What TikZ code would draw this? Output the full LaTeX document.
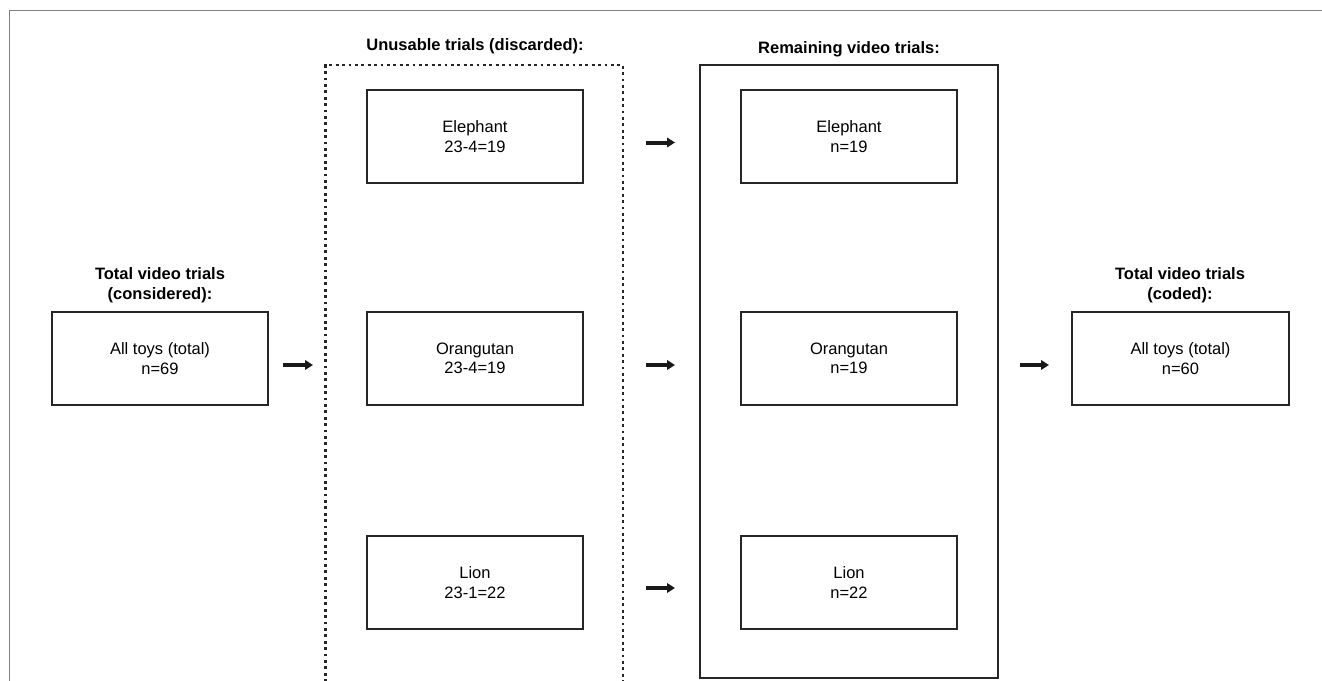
\documentclass[tikz,border=0pt]{standalone}
\usepackage{fontspec}
\setmainfont{Liberation Sans}
\usetikzlibrary{arrows.meta}
\begin{document}
\begin{tikzpicture}[x=1pt,y=-1pt,
  box/.style={draw=black!85,line width=1.8pt,minimum width=216pt,minimum height=93pt,inner sep=0pt,align=center,font=\fontsize{16.5}{19.5}\selectfont},
  hdr/.style={align=center,font=\fontsize{16.5}{20}\selectfont\bfseries},
  arr/.style={line width=4pt,-{Triangle[length=8pt,width=9.5pt]},black!90}]
\useasboundingbox (0,0) rectangle (1322,680);
\fill[white] (0,0) rectangle (1322,680);
% outer frame (open at right and bottom)
\draw[black!50,line width=1pt] (9.5,682) -- (9.5,10.5) -- (1324,10.5);
% group boxes
\draw[line width=2.3pt,dash pattern=on 2.8pt off 3.6pt,black!85] (325.5,682) -- (325.5,65) -- (623,65) -- (623,682);
\draw[line width=1.8pt,black!85] (700,65) rectangle (998,678);
% headers
\node[hdr] (hU) at (475,46) {Unusable trials (discarded):};
\node[hdr] (hR) at (849,49) {Remaining video trials:};
\node[hdr] (hL) at (160,285) {Total video trials\\(considered):};
\node[hdr] (hC) at (1180,285) {Total video trials\\(coded):};
% boxes
\node[box] (all) at (160,358.5) {All toys (total)\\n=69};
\node[box] (de) at (475,136.5) {Elephant\\23-4=19};
\node[box] (do) at (475,358.5) {Orangutan\\23-4=19};
\node[box] (dl) at (475,582.5) {Lion\\23-1=22};
\node[box] (re) at (849,136.5) {Elephant\\n=19};
\node[box] (ro) at (849,358.5) {Orangutan\\n=19};
\node[box] (rl) at (849,582.5) {Lion\\n=22};
\node[box,minimum width=217pt] (tot) at (1180.5,358.5) {All toys (total)\\n=60};
% arrows
\coordinate (a1s) at (283,365); \coordinate (a1e) at (313,365);
\coordinate (a2s) at (646,142.5); \coordinate (a2e) at (675,142.5);
\coordinate (a3s) at (646,365); \coordinate (a3e) at (675,365);
\coordinate (a4s) at (646,588); \coordinate (a4e) at (675,588);
\coordinate (a5s) at (1020,365); \coordinate (a5e) at (1049,365);
\draw[arr] (a1s) -- (a1e);
\draw[arr] (a2s) -- (a2e);
\draw[arr] (a3s) -- (a3e);
\draw[arr] (a4s) -- (a4e);
\draw[arr] (a5s) -- (a5e);
\end{tikzpicture}
\end{document}
